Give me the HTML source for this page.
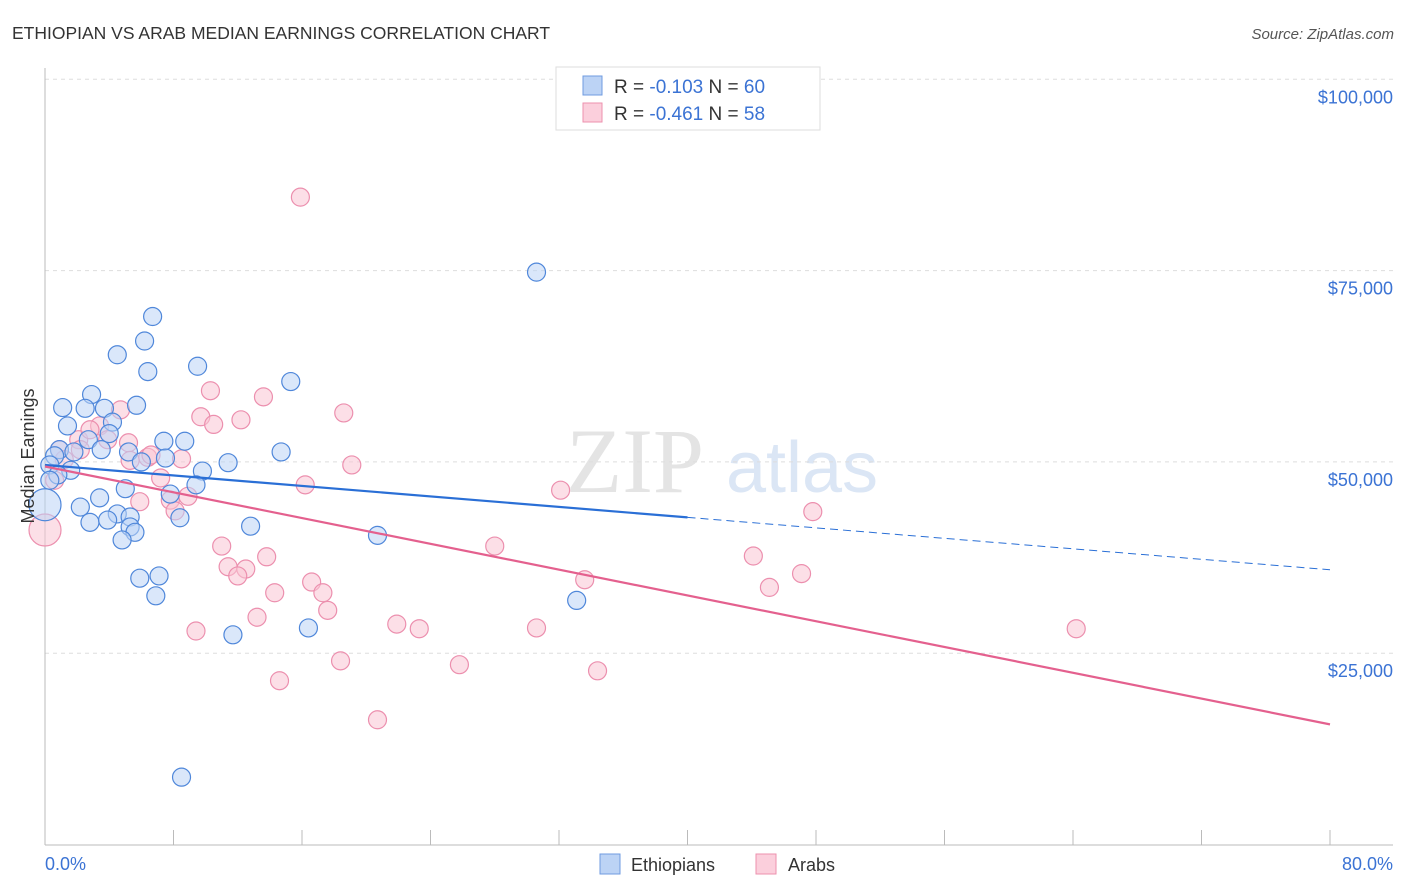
<!DOCTYPE html>
<html><head><meta charset="utf-8"><style>
body{margin:0;background:#fff;font-family:"Liberation Sans",sans-serif}
svg{display:block}
</style></head><body>
<svg id="c" width="1406" height="892" xmlns="http://www.w3.org/2000/svg">
<text x="12" y="39" font-size="17.5" fill="#333">ETHIOPIAN VS ARAB MEDIAN EARNINGS CORRELATION CHART</text>
<text x="1394" y="39" font-size="15" fill="#555" font-style="italic" text-anchor="end">Source: ZipAtlas.com</text>
<text x="635" y="492" font-size="92" fill="#e4e4e4" font-family="Liberation Serif,serif" text-anchor="middle">ZIP</text>
<text x="802" y="492" font-size="72" fill="#dbe6f5" text-anchor="middle">atlas</text>
<g id="grid"></g><g id="pts"></g><g id="lines"></g>
<text transform="translate(34,456) rotate(-90)" font-size="18" fill="#333" text-anchor="middle">Median Earnings</text>
<text x="45" y="870" font-size="18" fill="#3b73d4">0.0%</text>
<text x="1393" y="870" font-size="18" fill="#3b73d4" text-anchor="end">80.0%</text>
<g>
<rect x="556" y="67" width="264" height="63" fill="#fff" stroke="#ddd"/>
<rect x="583" y="76" width="19" height="19" fill="#bcd3f5" stroke="#6f9be0"/>
<rect x="583" y="103" width="19" height="19" fill="#fbcfdc" stroke="#ec91ae"/>
<text x="614" y="93" font-size="19" fill="#333">R = <tspan fill="#3b73d4">-0.103</tspan>    N = <tspan fill="#3b73d4">60</tspan></text>
<text x="614" y="120" font-size="19" fill="#333">R = <tspan fill="#3b73d4">-0.461</tspan>    N = <tspan fill="#3b73d4">58</tspan></text>
</g>
<g>
<rect x="600" y="854" width="20" height="20" fill="#bcd3f5" stroke="#6f9be0"/>
<text x="631" y="871" font-size="18" fill="#333">Ethiopians</text>
<rect x="756" y="854" width="20" height="20" fill="#fbcfdc" stroke="#ec91ae"/>
<text x="788" y="871" font-size="18" fill="#333">Arabs</text>
</g>
</svg>
<script>
const yTicks=[25000,50000,75000,100000];
const yTickLabels=["$25,000","$50,000","$75,000","$100,000"];
const ethX=[30.6,6.7,6.2,4.5,6.4,9.5,15.3,2.9,1.1,2.5,3.7,5.7,1.4,4.2,4.0,0.9,2.7,1.8,3.5,0.6,5.2,7.4,8.7,6.0,7.5,9.8,11.4,14.7,0.3,1.6,0.8,5.0,3.4,7.8,9.4,2.2,4.5,2.8,3.9,5.3,5.3,5.6,4.8,8.4,12.8,20.7,5.9,7.1,6.9,33.1,11.7,16.4,8.5,0,0.3];
const ethY=[74.8,69.0,65.8,64.0,61.8,62.5,60.5,58.8,57.1,57.0,57.0,57.4,54.7,55.2,53.7,51.6,52.9,51.3,51.6,50.8,51.3,52.7,52.7,50.0,50.5,48.8,49.9,51.3,49.6,48.9,48.3,46.5,45.3,45.8,47.0,44.1,43.2,42.1,42.4,42.8,41.5,40.8,39.8,42.7,41.6,40.4,34.8,35.1,32.5,31.9,27.4,28.3,8.8,44.4,47.6];
const arbX=[15.9,10.3,13.6,18.6,4.7,9.7,12.2,10.5,3.4,2.1,5.2,3.9,6.4,8.5,6.6,5.3,19.1,2.2,7.2,16.2,32.1,5.9,7.8,8.9,8.1,47.8,0,0.6,11.0,28.0,13.8,44.1,11.4,12.5,12.0,47.1,33.6,45.1,16.6,14.3,17.3,17.6,13.2,21.9,23.3,30.6,64.2,9.4,18.4,25.8,34.4,14.6,20.7,0.9,2.8,1.2];
const arbY=[84.6,59.3,58.5,56.4,56.8,55.9,55.5,54.9,54.7,52.9,52.5,52.9,50.6,50.4,50.9,50.2,49.6,51.6,47.9,47.0,46.3,44.8,45.0,45.5,43.6,43.5,41.1,47.6,39.0,39.0,37.6,37.7,36.3,36.0,35.1,35.4,34.6,33.6,34.3,32.9,32.9,30.6,29.7,28.8,28.2,28.3,28.2,27.9,24.0,23.5,22.7,21.4,16.3,51.6,54.2,50.3];
const ethTrend=[49600,35900];
const arbTrend=[49400,15700];
const NS="http://www.w3.org/2000/svg";
const X0=45,X1=1330,YB=844.5,PY=7.652e-3;
const sx=v=>X0+(v/80)*(X1-X0);
const sy=v=>YB-v*PY;
function mk(t,a,p){const e=document.createElementNS(NS,t);for(const k in a)e.setAttribute(k,a[k]);p.appendChild(e);return e;}
const grid=document.getElementById('grid');
yTicks.forEach((t,i)=>{
 const l=mk('line',{x1:45,x2:1393,y1:sy(t),y2:sy(t),stroke:'#ddd','stroke-dasharray':'4,4'},grid);
 
 
 const tx=mk('text',{x:1393,y:sy(t)+24,'font-size':18,fill:'#3b73d4','text-anchor':'end'},grid);
 tx.textContent=yTickLabels[i];
 
 
});
mk('line',{x1:45,x2:45,y1:68,y2:845,stroke:'#bbb'},grid);
mk('line',{x1:45,x2:1393,y1:845,y2:845,stroke:'#bbb'},grid);
for(let i=1;i<=10;i++){const t=mk('line',{x1:sx(i*8),x2:sx(i*8),y1:830,y2:845,stroke:'#bbb'},grid);}
const pts=document.getElementById('pts');
function dots(xs,ys,f,s,name){xs.forEach((x,i)=>{
 const big=x===0;
 const c=mk('circle',{cx:sx(x),cy:sy(ys[i]*1000),r:big?16:9,fill:f,'fill-opacity':0.55,stroke:s,'stroke-width':1.2},pts);
 
 
});}
dots(arbX,arbY,'#f9c4d4','#ec8fae','arab-point');
dots(ethX,ethY,'#bcd3f5','#4f87da','ethiopian-point');
const lines=document.getElementById('lines');
const ly=(tr,x)=>tr[0]+(tr[1]-tr[0])*x/80;
let a=mk('line',{x1:sx(0),y1:sy(ly(ethTrend,0)),x2:sx(40),y2:sy(ly(ethTrend,40)),stroke:'#2a6fd6','stroke-width':2.2},lines);

a=mk('line',{x1:sx(40),y1:sy(ly(ethTrend,40)),x2:sx(80),y2:sy(ly(ethTrend,80)),stroke:'#2a6fd6','stroke-width':1,'stroke-dasharray':'8,5'},lines);

a=mk('line',{x1:sx(0),y1:sy(ly(arbTrend,0)),x2:sx(80),y2:sy(ly(arbTrend,80)),stroke:'#e4608e','stroke-width':2.2},lines);

</script>
</body></html>
